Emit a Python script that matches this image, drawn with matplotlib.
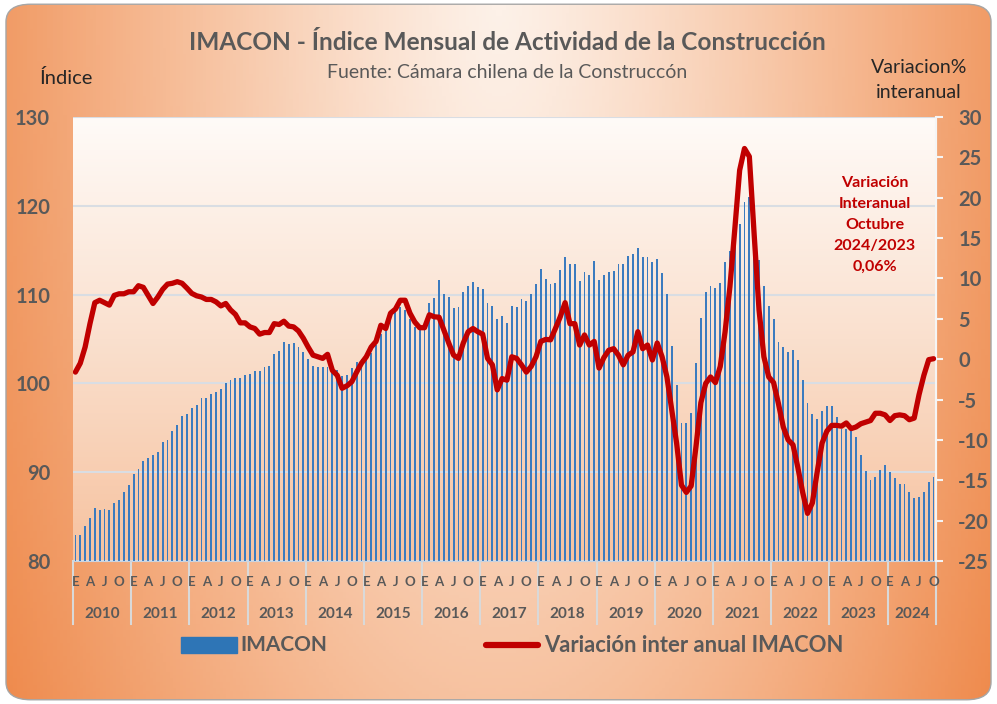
import numpy as np
import matplotlib
matplotlib.use("Agg")
import matplotlib.pyplot as plt
import matplotlib.transforms as mtransforms
from matplotlib.patches import FancyBboxPatch, Rectangle
from matplotlib.lines import Line2D
from matplotlib.colors import LinearSegmentedColormap

plt.rcParams['font.family'] = ['Lato', 'DejaVu Sans']

# ---- data (Jan 2010 .. Oct 2024, monthly) ----
years = [str(y) for y in range(2010, 2025)]
month_letters = {0: 'E', 3: 'A', 6: 'J', 9: 'O'}

imacon = [
    82.9, 82.9, 83.9, 84.8, 86.0, 85.7, 85.9, 85.7, 86.5, 86.9, 87.8, 88.6,      # 2010
    89.8, 90.4, 91.3, 91.6, 91.9, 92.3, 93.4, 93.6, 94.6, 95.3, 96.3, 96.5,      # 2011
    97.2, 97.6, 98.4, 98.4, 98.8, 99.0, 99.4, 100.1, 100.4, 100.6, 100.6, 100.9,  # 2012
    101.1, 101.4, 101.4, 101.8, 102.0, 103.3, 103.6, 104.7, 104.4, 104.6, 104.1, 103.5,  # 2013
    102.7, 102.0, 101.8, 101.8, 101.8, 101.2, 101.5, 100.8, 100.9, 101.7, 102.4, 102.7,  # 2014
    103.2, 103.4, 104.3, 105.6, 106.2, 107.9, 108.3, 108.6, 108.3, 107.3, 106.4, 106.0,  # 2015
    106.0, 109.1, 109.6, 111.6, 110.1, 109.7, 108.5, 108.6, 110.3, 111.0, 111.4, 110.8,  # 2016
    110.6, 109.1, 108.7, 107.3, 107.6, 106.8, 108.75, 108.6, 109.5, 109.3, 110.1, 111.2,  # 2017
    112.9, 111.8, 111.2, 111.3, 112.8, 114.2, 113.5, 113.4, 111.5, 112.6, 112.2, 113.75,  # 2018
    111.6, 112.2, 112.5, 112.7, 113.5, 113.4, 114.3, 114.6, 115.3, 114.2, 114.2, 113.7,  # 2019
    114.0, 112.4, 110.1, 104.2, 99.8, 95.5, 95.5, 96.7, 102.3, 107.4, 110.3, 111.0,   # 2020
    110.7, 111.3, 113.7, 114.9, 116.5, 118.0, 120.4, 121.0, 117.0, 113.9, 111.0, 108.7,  # 2021
    107.2, 104.7, 104.1, 103.5, 103.8, 102.6, 100.4, 97.8, 96.6, 96.0, 96.9, 97.5,    # 2022
    97.5, 96.2, 94.9, 94.9, 95.0, 94.0, 91.9, 90.1, 89.1, 89.5, 90.3, 90.8,          # 2023
    90.0, 89.3, 88.7, 88.7, 87.8, 87.1, 87.2, 87.8, 88.9, 89.5,                      # 2024
]

variacion = [
    -1.6, -0.5, 1.5, 4.4, 7.0, 7.3, 7.0, 6.7, 7.9, 8.1, 8.1, 8.35,
    8.35, 9.1, 8.9, 7.9, 6.9, 7.7, 8.65, 9.3, 9.4, 9.6, 9.4, 8.8,
    8.15, 7.85, 7.7, 7.4, 7.4, 7.1, 6.6, 6.9, 6.1, 5.55, 4.5, 4.5,
    4.0, 3.8, 3.1, 3.3, 3.3, 4.4, 4.3, 4.7, 4.1, 4.0, 3.5, 2.6,
    1.5, 0.5, 0.3, 0.1, 0.6, -1.4, -2.0, -3.6, -3.3, -2.8, -1.6, -0.5,
    0.3, 1.5, 2.2, 4.2, 3.8, 5.7, 6.2, 7.3, 7.3, 5.7, 4.6, 3.9,
    3.9, 5.5, 5.25, 5.2, 3.6, 2.0, 0.5, 0.1, 2.0, 3.4, 3.8, 3.4,
    3.1, 0.1, -0.7, -3.8, -2.4, -2.6, 0.3, 0.1, -0.7, -1.6, -0.9, 0.3,
    2.2, 2.45, 2.4, 3.8, 5.25, 7.0, 4.4, 4.4, 1.75, 3.0, 1.75, 2.2,
    -1.1, 0.2, 1.1, 1.3, 0.5, -0.7, 0.5, 0.9, 3.4, 1.3, 1.75, -0.1,
    2.0, 0.3, -2.2, -6.3, -10.4, -15.6, -16.5, -15.7, -10.8, -5.4, -3.0, -2.2,
    -2.9, -0.9, 3.4, 9.0, 16.1, 23.4, 26.1, 25.1, 15.4, 6.1, 0.3, -2.2,
    -2.9, -5.5, -8.4, -10.0, -10.6, -13.4, -16.5, -19.1, -17.8, -13.95, -10.4, -8.9,
    -8.2, -8.2, -8.3, -7.9, -8.6, -8.4, -8.0, -7.8, -7.6, -6.7, -6.7, -6.9,
    -7.6, -7.0, -6.9, -7.0, -7.5, -7.3, -4.4, -2.0, -0.06, 0.06,
]

left_ticks = list(range(80, 131, 10))
right_ticks = list(range(-25, 31, 5))

n = len(imacon)
x = np.arange(n)
gray = '#595959'
red = '#c00000'

W, H = 997, 704
fig = plt.figure(figsize=(W / 100, H / 100), dpi=100)
fig.patch.set_facecolor('white')

# background with orange radial gradient inside a rounded frame
bg = fig.add_axes([0, 0, 1, 1], zorder=-10)
bg.set_xlim(0, 1)
bg.set_ylim(0, 1)
bg.axis('off')
GX, GY = np.meshgrid(np.linspace(0, 1, 300), np.linspace(0, 1, 220))
d = np.sqrt(((GX - 0.5) / 0.5) ** 2 + (0.6 * GY) ** 2)
t = np.clip(d / 1.2, 0, 1) ** 1.2
bg_cmap = LinearSegmentedColormap.from_list('bg', ['#fdf1e8', '#f6bb95', '#ee8646'])
im = bg.imshow(t, cmap=bg_cmap, extent=[0, 1, 0, 1], origin='upper', aspect='auto', vmin=0, vmax=1)
frame = FancyBboxPatch((0.006, 0.006), 0.988, 0.988,
                       boxstyle='round,pad=0,rounding_size=0.025',
                       transform=bg.transAxes, facecolor='none', edgecolor='#a6a6a6', lw=1)
bg.add_patch(frame)
im.set_clip_path(frame)

# main axes
ax = fig.add_axes([73 / W, 1 - 561 / H, (936 - 73) / W, (561 - 117) / H])
ax.set_xlim(-0.5, n - 0.5)
ax.set_ylim(80, 130)
grad = np.linspace(0, 1, 256).reshape(-1, 1)
pa_cmap = LinearSegmentedColormap.from_list('pa', ['#fffbf8', '#fae0ce', '#f7c29f'])
ax.imshow(grad, cmap=pa_cmap, extent=[-0.5, n - 0.5, 80, 130], origin='upper',
          aspect='auto', zorder=0)

ax.set_axisbelow(True)
ax.yaxis.grid(True, color='#d9dde3', lw=1.5)
ax.bar(x, imacon, width=0.38, color='#3b7bbf', zorder=2)

ax.set_xticks([])
ax.set_yticks(left_ticks)
ax.set_yticklabels([str(v) for v in left_ticks], fontweight='bold')
ax.tick_params(axis='y', length=0, pad=16.5, labelsize=14.5, labelcolor=gray)
for s in ['left', 'top']:
    ax.spines[s].set_visible(False)
ax.spines['bottom'].set_color('#c9d3e0')
ax.spines['right'].set_color('#f5f5f5')

# category axis: month letters, years and separators
trans = mtransforms.blended_transform_factory(ax.transData, ax.transAxes)
for i in range(n):
    m = i % 12
    if m in month_letters:
        ax.text(i, -0.047, month_letters[m], transform=trans, ha='center', va='center',
                fontsize=9.5, fontweight='bold', color=gray)
for k, yr in enumerate(years):
    start = 12 * k - 0.5
    end = min(12 * (k + 1), n) - 0.5
    ax.text((start + end) / 2, -0.119, yr, transform=trans, ha='center', va='center',
            fontsize=11, fontweight='bold', color=gray)
    ax.add_line(Line2D([start, start], [0, -0.143], transform=trans, color='#d9d9d9',
                       lw=1.5, clip_on=False))
ax.add_line(Line2D([n - 0.5, n - 0.5], [0, -0.143], transform=trans, color='#d9d9d9',
                   lw=1.5, clip_on=False))

# secondary axis: year-on-year variation
ax2 = ax.twinx()
ax2.set_ylim(-25, 30)
ax2.set_yticks(right_ticks)
ax2.set_yticklabels([str(v) for v in right_ticks], fontweight='bold')
ax2.tick_params(axis='y', length=5, width=1.5, color='#f5f5f5', pad=11, labelsize=14.5,
                labelcolor=gray)
for s in ['left', 'top', 'bottom']:
    ax2.spines[s].set_visible(False)
ax2.spines['right'].set_color('#f5f5f5')
ax2.spines['right'].set_linewidth(1.5)
ax2.plot(x, variacion, color=red, lw=3.8, solid_joinstyle='round', solid_capstyle='round',
         zorder=3)

ax2.text(0.929, 0.757, 'Variación\nInteranual\nOctubre\n2024/2023\n0,06%',
         transform=ax2.transAxes, ha='center', va='center', multialignment='center',
         fontsize=11.5, fontweight='bold', color=red, linespacing=1.62)

# titles and axis captions
fig.text(507 / W, 1 - 42 / H, 'IMACON - Índice Mensual de Actividad de la Construcción',
         ha='center', va='center', fontsize=17.6, fontweight='bold', color=gray)
fig.text(507 / W, 1 - 72 / H, 'Fuente: Cámara chilena de la Construccón',
         ha='center', va='center', fontsize=14, color=gray)
fig.text(66 / W, 1 - 78 / H, 'Índice', ha='center', va='center', fontsize=14.5, color='#262626')
fig.text(919 / W, 1 - 80 / H, 'Variacion%\ninteranual', ha='center', va='center',
         fontsize=14, color='#262626', linespacing=1.55)

# legend
fig.add_artist(Rectangle((181 / W, 1 - 653 / H), 56 / W, 16 / H, color='#2e75b6',
                         transform=fig.transFigure))
fig.text(240 / W, 1 - 645 / H, 'IMACON', ha='left', va='center', fontsize=15,
         fontweight='bold', color=gray)
fig.add_artist(Line2D([486 / W, 538 / W], [1 - 645 / H, 1 - 645 / H], color=red, lw=4.5,
                      solid_capstyle='round', transform=fig.transFigure))
fig.text(544 / W, 1 - 645 / H, 'Variación inter anual IMACON', ha='left', va='center',
         fontsize=15.8, fontweight='bold', color=gray)

fig.savefig('out.png', dpi=100, facecolor=fig.get_facecolor())
